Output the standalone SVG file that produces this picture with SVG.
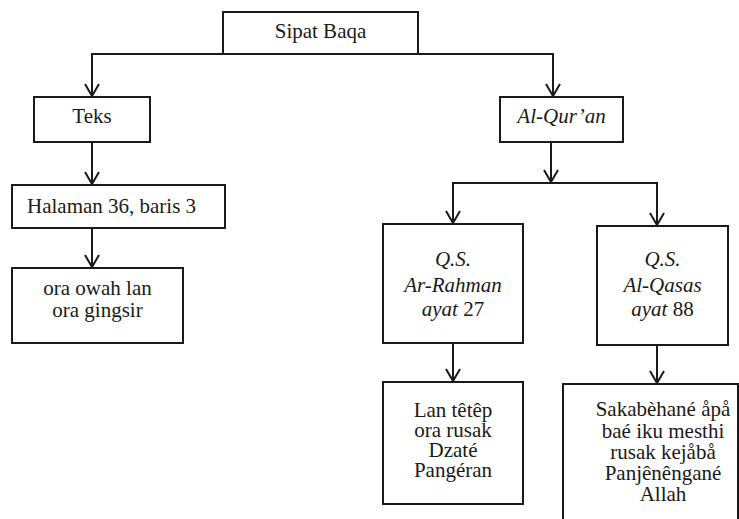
<svg xmlns="http://www.w3.org/2000/svg" width="739" height="519" viewBox="0 0 739 519">
<style>
.box{fill:#fff;stroke:#1a1a1a;stroke-width:2}
.t{font-family:'Liberation Serif','Times New Roman',serif;font-size:21px;fill:#1a1a1a;text-anchor:middle}
.i{font-style:italic}
.c{fill:none;stroke:#1a1a1a;stroke-width:2}
</style>
<defs>
<marker id="ah" markerUnits="userSpaceOnUse" markerWidth="20" markerHeight="20" viewBox="-14 -10 16 20" refX="0" refY="0" orient="auto" overflow="visible">
<path d="M-12,-7 L0,0 L-12,7" fill="none" stroke="#1a1a1a" stroke-width="2"/>
</marker>
</defs>
<rect width="739" height="519" fill="#fff"/>
<g id="connectors" class="c">
<path d="M223,54 H92 V96" marker-end="url(#ah)"/>
<path d="M418,54 H553 V96" marker-end="url(#ah)"/>
<path d="M92,142 V184" marker-end="url(#ah)"/>
<path d="M92,228 V267" marker-end="url(#ah)"/>
<path d="M551,142 V182" marker-end="url(#ah)"/>
<path d="M551,183 H453 V223" marker-end="url(#ah)"/>
<path d="M551,183 H657 V225" marker-end="url(#ah)"/>
<path d="M453,343 V381" marker-end="url(#ah)"/>
<path d="M657,345 V383" marker-end="url(#ah)"/>
</g>
<g id="sipat-baqa">
<rect class="box" x="223" y="12" width="195" height="42"/>
<text class="t" x="320.5" y="38">Sipat Baqa</text>
</g>
<g id="teks">
<rect class="box" x="34" y="97" width="116" height="45"/>
<text class="t" x="92" y="123">Teks</text>
</g>
<g id="al-quran">
<rect class="box" x="500" y="97" width="123" height="45"/>
<text class="t i" x="561.5" y="123">Al-Qur’an</text>
</g>
<g id="halaman">
<rect class="box" x="12" y="185" width="213" height="43"/>
<text class="t" x="27" y="213" style="text-anchor:start">Halaman 36, baris 3</text>
</g>
<g id="ora-owah">
<rect class="box" x="12" y="268" width="171" height="75"/>
<text class="t" x="97.5" y="295">ora owah lan</text>
<text class="t" x="97.5" y="317">ora gingsir</text>
</g>
<g id="ar-rahman">
<rect class="box" x="383" y="224" width="140" height="119"/>
<text class="t i" x="453" y="266">Q.S.</text>
<text class="t i" x="453" y="292">Ar-Rahman</text>
<text class="t i" x="453" y="316"><tspan>ayat</tspan><tspan font-style="normal"> 27</tspan></text>
</g>
<g id="al-qasas">
<rect class="box" x="597" y="226" width="131" height="119"/>
<text class="t i" x="662.5" y="266">Q.S.</text>
<text class="t i" x="662.5" y="292">Al-Qasas</text>
<text class="t i" x="662.5" y="316"><tspan>ayat</tspan><tspan font-style="normal"> 88</tspan></text>
</g>
<g id="lan-tetep">
<rect class="box" x="383" y="382" width="140" height="122"/>
<text class="t" x="453" y="417">Lan têtêp</text>
<text class="t" x="453" y="437">ora rusak</text>
<text class="t" x="453" y="457">Dzaté</text>
<text class="t" x="453" y="477">Pangéran</text>
</g>
<g id="sakabehane">
<rect class="box" x="563" y="384" width="175" height="150"/>
<text class="t" x="663" y="416">Sakabèhané åpå</text>
<text class="t" x="663" y="438">baé iku mesthi</text>
<text class="t" x="663" y="459">rusak kejåbå</text>
<text class="t" x="663" y="480">Panjênêngané</text>
<text class="t" x="663" y="501">Allah</text>
</g>
</svg>
